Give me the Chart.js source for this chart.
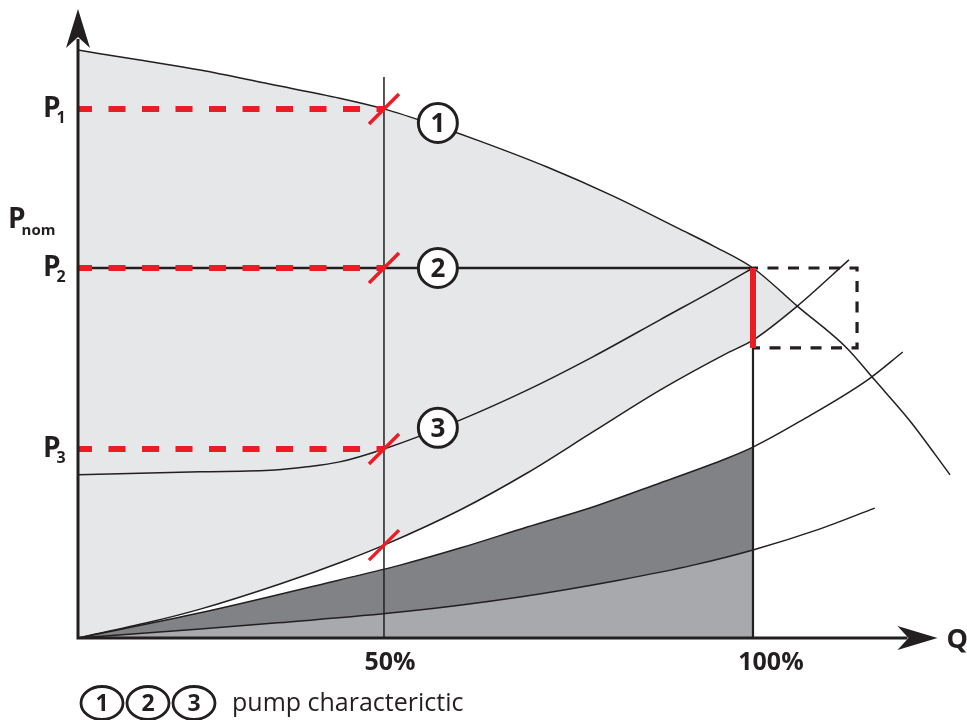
<!DOCTYPE html>
<html>
<head>
<meta charset="utf-8">
<style>html,body{margin:0;padding:0;background:#fff;}canvas{display:block;}</style>
<script src="https://cdn.jsdelivr.net/npm/chart.js@4.4.1/dist/chart.umd.min.js"></script>
</head>
<body>
<canvas id="c" width="967" height="720"></canvas>
<script>
// ---------- DATA (Q in % of nominal flow, P in % of P2) ----------
const qTickValues = [50, 100];
const qTickLabels = ['50%', '100%'];

const pLevelValues = [143.0, 100, 51.1];      // P1, P2, P3 at 50 % flow
const pLevelSubs   = ['1', '2', '3'];
const pNomValue    = 113.5;

// pump characteristic (max curve), curve 1
const curve1Q = [8.54, 16.9, 25.1, 34.5, 44.0, 50, 57.6, 63.0, 72.1, 81.0, 90.1, 94.6, 100, 106.0, 112.7, 116.5, 121.3, 126.7];
const curve1P = [158.9, 156.2, 153.5, 149.7, 145.9, 143.0, 138.1, 134.3, 127.3, 119.5, 110.5, 106.0, 100, 89.7, 78.4, 69.7, 58.6, 44.1];

// constant pressure, curve 2
const curve2Q = [8.54, 100];
const curve2P = [100, 100];

// proportional pressure, curve 3
const curve3Q = [8.54, 25.1, 35.2, 39.3, 44.0, 50, 60.3, 69.4, 78.3, 87.4, 96.5, 100];
const curve3P = [44.1, 44.9, 45.4, 46.2, 47.6, 51.1, 58.9, 67.0, 76.0, 86.0, 96.0, 100];

// system curves A (upper), B (middle), C (lower)
const sysAQ = [8.54, 18.3, 25.1, 35.9, 45.0, 50, 60.3, 69.4, 78.3, 87.4, 96.5, 100, 106.0, 113.0];
const sysAP = [0, 4.3, 7.8, 14.6, 21.1, 25.1, 34.6, 44.6, 55.7, 67.0, 77.0, 80.5, 89.7, 102.2];
const sysBQ = [8.54, 25.1, 44.0, 52.2, 60.3, 69.4, 78.3, 87.4, 96.5, 100, 106.4, 115.5, 120.3];
const sysBP = [0, 6.8, 15.7, 19.7, 24.3, 30.0, 35.4, 41.9, 48.6, 51.6, 58.6, 69.7, 77.3];
const sysCQ = [8.54, 25.1, 35.6, 52.2, 68.4, 82.0, 91.9, 100, 109.1, 116.5];
const sysCP = [0, 2.4, 4.1, 7.0, 11.1, 15.7, 19.7, 23.8, 29.5, 35.1];

const qCross1A   = 106.0;   // curve 1 meets system curve A
const qNominal   = 100;
const qHalf      = 50;
const line50Top  = 151.6;
const redBarLow  = 78.4;    // lower end of red bar / dashed box
const boxRightQ  = 114.1;
const slashP     = [143.0, 100, 51.1, 25.1];  // crossings on the 50 % line
const curveLabelQ = 57.3;
const curveLabelP = [139.2, 100, 56.8];
const curveLabelTxt = ['1', '2', '3'];
const legendText = 'pump characterictic';

// ---------- STYLE ----------
const INK = '#231f20', RED = '#ed1c24';
const LIGHT = '#e6e7e8', DARK = '#808285', MED = '#a7a9ac';
const FONT = '"Open Sans", "Noto Sans", sans-serif';
const qMin = 8.54, qMax = 128.05, pMax = 171.08;

const pts = (qs, ps) => qs.map((q, i) => ({x: q, y: ps[i]}));
const upTo = (qs, ps, lim) => pts(qs, ps).filter(p => p.x <= lim + 1e-9);
const NONE = 'rgba(0,0,0,0)';

function fillSet(data, color, order) {
  return {data, fill: 'origin', backgroundColor: color, borderColor: NONE, borderWidth: 0,
          cubicInterpolationMode: 'monotone', order};
}
function curveSet(data, order) {
  return {data, fill: false, borderColor: INK, borderWidth: 1.5, cubicInterpolationMode: 'monotone', order};
}
function straight(data, color, width, order, dash, dashOff) {
  return {data, fill: false, borderColor: color, borderWidth: width, tension: 0, order,
          borderDash: dash || [], borderDashOffset: dashOff || 0, borderCapStyle: 'butt'};
}

const datasets = [
  fillSet(upTo(curve1Q, curve1P, qCross1A), LIGHT, 100),
  fillSet(upTo(sysAQ, sysAP, qCross1A), '#ffffff', 90),
  fillSet(upTo(sysBQ, sysBP, qNominal), DARK, 80),
  fillSet(upTo(sysCQ, sysCP, qNominal), MED, 70),
  curveSet(pts(curve1Q, curve1P), 50),
  curveSet(pts(curve3Q, curve3P), 50),
  curveSet(pts(sysAQ, sysAP), 50),
  curveSet(pts(sysBQ, sysBP), 50),
  curveSet(pts(sysCQ, sysCP), 50),
  straight([{x: qHalf, y: 0}, {x: qHalf, y: line50Top}], INK, 1.5, 40),
  straight([{x: qNominal, y: 0}, {x: qNominal, y: redBarLow}], INK, 2.2, 40),
  straight(pts(curve2Q, curve2P), INK, 2.6, 30),
  ...pLevelValues.map(p => straight([{x: qMin, y: p}, {x: qHalf, y: p}], RED, 6, 20, [17, 16.5], 3)),
  straight([{x: qNominal, y: redBarLow}, {x: qNominal, y: curve2P[1]}], RED, 6, 15),
  straight([{x: qNominal, y: 100}, {x: boxRightQ, y: 100}, {x: boxRightQ, y: redBarLow}, {x: qNominal, y: redBarLow}],
           INK, 3.2, 16, [11, 9.5], 6)
];

function circled(ctx, cx, cy, rx, ry, lw, txt, fs) {
  ctx.beginPath();
  ctx.ellipse(cx, cy, rx, ry, 0, 0, Math.PI * 2);
  ctx.fillStyle = '#fff';
  ctx.fill();
  ctx.lineWidth = lw;
  ctx.strokeStyle = INK;
  ctx.stroke();
  ctx.fillStyle = INK;
  ctx.font = 'bold ' + fs + 'px ' + FONT;
  ctx.textAlign = 'center';
  ctx.textBaseline = 'alphabetic';
  ctx.fillText(txt, cx, cy + fs * 0.36);
}

const decor = {
  id: 'decor',
  afterDatasetsDraw(chart) {
    const {ctx} = chart;
    const X = v => chart.scales.x.getPixelForValue(v);
    const Y = v => chart.scales.y.getPixelForValue(v);
    const ox = X(qMin), oy = Y(0);
    ctx.save();
    // axes
    ctx.strokeStyle = INK; ctx.fillStyle = INK; ctx.lineWidth = 3; ctx.lineCap = 'butt';
    const xTip = X(125), yTip = Y(170);
    ctx.beginPath();
    ctx.moveTo(ox - 1.5, oy); ctx.lineTo(xTip - 30, oy);
    ctx.moveTo(ox, oy + 1.5); ctx.lineTo(ox, yTip + 30);
    ctx.stroke();
    // arrow heads
    ctx.beginPath();
    ctx.moveTo(xTip, oy); ctx.lineTo(xTip - 40, oy - 12); ctx.lineTo(xTip - 29, oy); ctx.lineTo(xTip - 40, oy + 12);
    ctx.closePath(); ctx.fill();
    ctx.beginPath();
    ctx.moveTo(ox, yTip); ctx.lineTo(ox - 12, yTip + 39); ctx.lineTo(ox, yTip + 28); ctx.lineTo(ox + 12, yTip + 39);
    ctx.closePath(); ctx.fill();

    // red slashes
    ctx.strokeStyle = RED; ctx.lineWidth = 3.5;
    slashP.forEach(p => {
      const cx = X(qHalf), cy = Y(p);
      ctx.beginPath();
      ctx.moveTo(cx - 15, cy + 15); ctx.lineTo(cx + 15, cy - 15);
      ctx.stroke();
    });

    // circled curve labels
    curveLabelP.forEach((p, i) => circled(ctx, X(curveLabelQ), Y(p), 19.5, 19.5, 3, curveLabelTxt[i], 26));

    // y labels
    ctx.fillStyle = INK; ctx.textAlign = 'left'; ctx.textBaseline = 'alphabetic';
    pLevelValues.forEach((p, i) => {
      const yy = Y(p);
      ctx.font = 'bold 28px ' + FONT;
      ctx.fillText('P', 43, yy + 8);
      const w = ctx.measureText('P').width;
      ctx.font = 'bold 16px ' + FONT;
      ctx.fillText(pLevelSubs[i], 43 + w - 4, yy + 14);
    });
    {
      const yy = Y(pNomValue);
      ctx.font = 'bold 28px ' + FONT;
      ctx.fillText('P', 8, yy + 10);
      const w = ctx.measureText('P').width;
      ctx.font = 'bold 15px ' + FONT;
      ctx.fillText('nom', 8 + w - 4, yy + 17);
    }

    // x tick labels
    ctx.font = 'bold 25px ' + FONT;
    ctx.textAlign = 'center';
    const nudge = [6, 18];
    qTickValues.forEach((q, i) => ctx.fillText(qTickLabels[i], X(q) + nudge[i], oy + 32));
    ctx.textAlign = 'left';
    ctx.font = 'bold 27px ' + FONT;
    ctx.fillText('Q', xTip + 9, oy + 10);

    // legend
    ['1', '2', '3'].forEach((t, i) => circled(ctx, 102 + i * 46, 703, 21, 16.5, 2.8, t, 23));
    ctx.fillStyle = INK;
    ctx.font = '25px ' + FONT;
    ctx.textAlign = 'left';
    ctx.fillText(legendText, 232, 711);
    ctx.restore();
  }
};

new Chart(document.getElementById('c'), {
  type: 'line',
  data: {datasets},
  options: {
    responsive: false,
    animation: false,
    devicePixelRatio: 1,
    layout: {padding: {left: 78, right: 7, top: 5, bottom: 82}},
    elements: {point: {radius: 0, hoverRadius: 0}},
    scales: {
      x: {type: 'linear', min: qMin, max: qMax, display: false},
      y: {type: 'linear', min: 0, max: pMax, display: false}
    },
    plugins: {legend: {display: false}, tooltip: {enabled: false}},
    events: []
  },
  plugins: [decor]
});
</script>
</body>
</html>
